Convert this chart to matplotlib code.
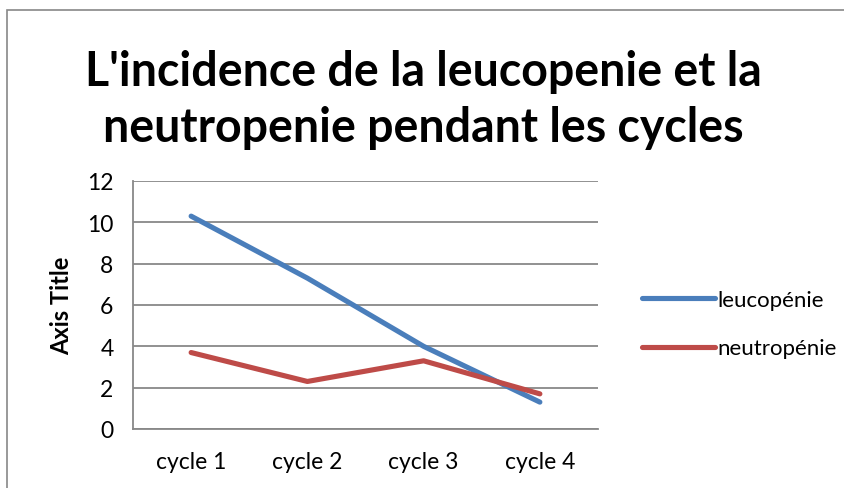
import matplotlib
matplotlib.use("Agg")
import matplotlib.pyplot as plt
import matplotlib.patches as mpatches

# donnees
cycles = ["cycle 1", "cycle 2", "cycle 3", "cycle 4"]
leucopenie = [10.3, 7.3, 4.0, 1.3]
neutropenie = [3.7, 2.3, 3.3, 1.7]
yticks = [0, 2, 4, 6, 8, 10, 12]

plt.rcParams['font.family'] = ['Lato', 'DejaVu Sans']

W, H = 845, 489
fig = plt.figure(figsize=(W / 100, H / 100), dpi=100)
ax = fig.add_axes([133 / W, 1 - 430 / H, (598 - 133) / W, (430 - 182) / H])

x = range(len(cycles))
ax.plot(x, leucopenie, color='#4A7EBB', lw=3.7, solid_capstyle='round', label='leucopénie', zorder=3)
ax.plot(x, neutropenie, color='#BE4B48', lw=3.7, solid_capstyle='round', label='neutropénie', zorder=3)

ax.set_xlim(-0.5, 3.5)
ax.set_ylim(0, 12)
ax.set_yticks(yticks)
ax.set_xticks(list(x))
ax.set_xticklabels(cycles)
ax.tick_params(axis='y', length=0, labelsize=16.5, pad=14)
ax.tick_params(axis='x', length=0, labelsize=16.5, pad=16)
ax.grid(True, axis='y', color='#888888', lw=1.3)
ax.set_axisbelow(True)
for s in ['top', 'right']:
    ax.spines[s].set_visible(False)
for s in ['left', 'bottom']:
    ax.spines[s].set_color('#888888')
    ax.spines[s].set_linewidth(1.3)

fig.text(62 / W, 1 - 306 / H, 'Axis Title', rotation=90, fontsize=17, fontweight='bold',
         ha='center', va='center')

fig.text(423 / W, 1 - 72 / H, "L'incidence de la leucopenie et la", fontsize=33.5,
         fontweight='bold', ha='center', va='center')
fig.text(423 / W, 1 - 128 / H, "neutropenie pendant les cycles", fontsize=33.5,
         fontweight='bold', ha='center', va='center')

leg = fig.legend(loc='center left', bbox_to_anchor=(642 / W, 1 - 325 / H), frameon=False,
                 fontsize=16, handlelength=3.3, handletextpad=0.1, labelspacing=1.3,
                 borderaxespad=0, borderpad=0)

# cadre du graphique
fig.patches.append(mpatches.Rectangle((7 / W, -0.1), 1.1, 1 - 11 / H + 0.1,
                                      transform=fig.transFigure, fill=False,
                                      edgecolor='#888888', lw=1.2))

fig.savefig("out.png", dpi=100)
